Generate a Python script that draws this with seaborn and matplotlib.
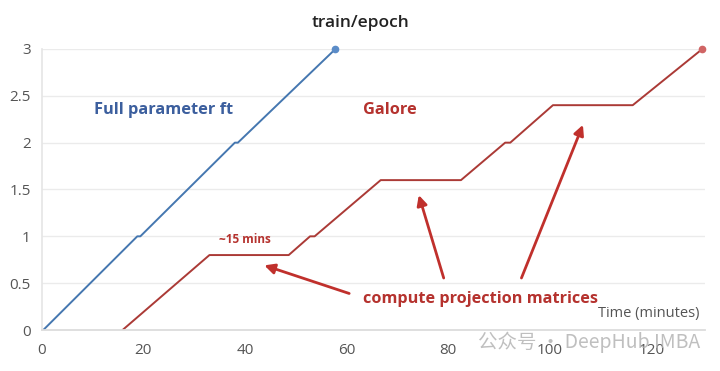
import matplotlib
matplotlib.use("Agg")
import matplotlib.pyplot as plt
import seaborn as sns
import pandas as pd

# data
full_time = [0.3, 18.8, 19.4, 38.0, 38.6, 57.8]
full_epoch = [0, 1, 1, 2, 2, 3]
galore_time = [15.9, 33.0, 48.6, 52.8, 53.7, 66.7, 82.5, 91.2, 92.2, 100.6, 116.3, 130.0]
galore_epoch = [0, 0.8, 0.8, 1.0, 1.0, 1.6, 1.6, 2.0, 2.0, 2.4, 2.4, 3.0]
x_ticks = [0, 20, 40, 60, 80, 100, 120]
y_ticks = [0, 0.5, 1, 1.5, 2, 2.5, 3]
y_ticklabels = ["0", "0.5", "1", "1.5", "2", "2.5", "3"]

sns.set_theme(style="white")
plt.rcParams["font.family"] = ["Open Sans", "Noto Sans CJK SC", "DejaVu Sans"]

BLUE = "#4577b0"
RED = "#ab3a36"
TEXT_RED = "#b5322e"

df_full = pd.DataFrame({"time": full_time, "epoch": full_epoch})
df_gal = pd.DataFrame({"time": galore_time, "epoch": galore_epoch})

fig = plt.figure(figsize=(7.2, 3.71), dpi=100)
ax = fig.add_axes([0.058, 0.1105, 0.921, 0.7575])

sns.lineplot(data=df_full, x="time", y="epoch", ax=ax, color=BLUE, lw=1.4,
             sort=False, estimator=None)
sns.lineplot(data=df_gal, x="time", y="epoch", ax=ax, color=RED, lw=1.4,
             sort=False, estimator=None)
ax.plot(full_time[-1:], full_epoch[-1:], "o", color="#5b8cc8", ms=4.5, clip_on=False, zorder=5)
ax.plot(galore_time[-1:], galore_epoch[-1:], "o", color="#d06464", ms=4.5, clip_on=False, zorder=5)

ax.set_xlim(0, 130.5)
ax.set_ylim(0, 3)
ax.set_xticks(x_ticks)
ax.set_yticks(y_ticks)
ax.set_yticklabels(y_ticklabels)
ax.tick_params(axis="both", labelsize=11, colors="#555555", length=0, pad=8)
ax.tick_params(axis="x", length=6, color="#dddddd", direction="inout", pad=6)
ax.yaxis.grid(True, color="#ebebeb", lw=1)
ax.xaxis.grid(False)
for s in ["top", "right"]:
    ax.spines[s].set_visible(False)
ax.spines["left"].set_color("#e6e6e6")
ax.spines["bottom"].set_color("#dcdcdc")
ax.spines["bottom"].set_linewidth(1.3)
ax.set_xlabel("")
ax.set_ylabel("")

fig.text(0.5, 0.937, "train/epoch", ha="center", va="center", fontsize=12.5,
         fontweight="semibold", color="#222222")
ax.text(129.5, 0.1, "Time (minutes)", ha="right", va="bottom", fontsize=10.5, color="#555555")

ax.text(10.2, 2.35, "Full parameter ft", color="#3c5f9e", fontsize=11.8, fontweight="bold", va="center")
ax.text(63.3, 2.35, "Galore", color=TEXT_RED, fontsize=11.8, fontweight="bold", va="center")
ax.text(34.8, 0.965, "~15 mins", color=TEXT_RED, fontsize=8.5, fontweight="bold", va="center")
ax.text(63.3, 0.335, "compute projection matrices", color=TEXT_RED, fontsize=11.7,
        fontweight="bold", va="center")

arrow_kw = dict(arrowstyle="-|>,head_length=0.5,head_width=0.25", color="#c0302c", lw=2.0,
                shrinkA=0, shrinkB=0)
ax.annotate("", xy=(43.8, 0.69), xytext=(60.5, 0.39), arrowprops=arrow_kw)
ax.annotate("", xy=(74.2, 1.44), xytext=(79.1, 0.555), arrowprops=arrow_kw)
ax.annotate("", xy=(106.5, 2.19), xytext=(94.4, 0.555), arrowprops=arrow_kw)

# watermark
fig.text(0.972, 0.078, "公众号 · DeepHub IMBA", ha="right", va="center", fontsize=14,
         color="#b0b0b0", alpha=0.8, family=["Noto Sans CJK SC", "DejaVu Sans"])

fig.savefig("out.png", dpi=100)
